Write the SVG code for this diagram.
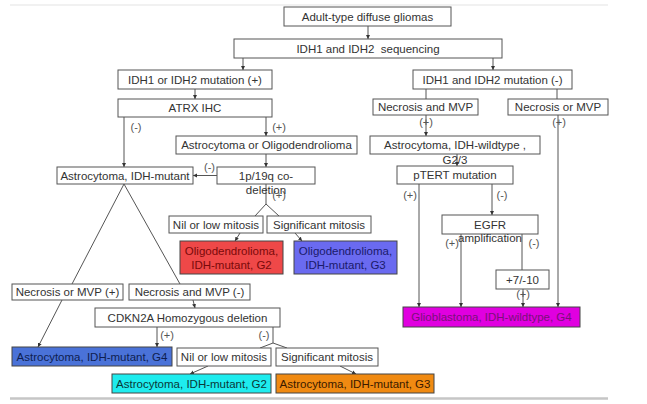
<svg xmlns="http://www.w3.org/2000/svg" width="647" height="404" viewBox="0 0 647 404">
<style>
.b{fill:#fff;stroke:#555;stroke-width:1}
.t{font-family:"Liberation Sans",Arial,sans-serif;font-size:11.5px;fill:#333;text-anchor:middle}
.l{font-family:"Liberation Sans",Arial,sans-serif;font-size:11px;fill:#555;text-anchor:middle}
.c line,.c polyline{stroke:#555;stroke-width:1;fill:none}
.a{marker-end:url(#ah)}
</style>
<defs>
<marker id="ah" markerUnits="userSpaceOnUse" markerWidth="6" markerHeight="6" refX="4" refY="2.5" orient="auto">
<path d="M0,0.5 L4,2.5 L0,4.5 Z" fill="#333"/>
</marker>
</defs>
<rect width="647" height="404" fill="#fff"/>
<line x1="10" y1="5" x2="608" y2="5" stroke="#ececec" stroke-width="1.5"/>
<line x1="10" y1="398.5" x2="608" y2="398.5" stroke="#c6c6c6" stroke-width="2.5"/>

<g class="c" id="connectors">
<line class="a" x1="368" y1="26" x2="368" y2="39"/>
<line class="a" x1="243" y1="58" x2="243" y2="70"/>
<line class="a" x1="493" y1="58" x2="493" y2="70"/>
<line class="a" x1="195" y1="89" x2="195" y2="99"/>
<line class="a" x1="124" y1="117" x2="124" y2="167"/>
<line class="a" x1="266" y1="117" x2="266" y2="136"/>
<line class="a" x1="266" y1="154" x2="266" y2="167"/>
<line class="a" x1="217" y1="175.5" x2="193" y2="175.5"/>
<polyline points="266,184 266,204 255,216"/>
<line x1="266" y1="204" x2="279" y2="216"/>
<line class="a" x1="240" y1="233" x2="235" y2="241"/>
<line class="a" x1="295" y1="233" x2="302" y2="241"/>
<line x1="124" y1="184" x2="72" y2="284"/>
<line x1="124" y1="184" x2="180" y2="284"/>
<line class="a" x1="62" y1="300" x2="38" y2="347"/>
<line class="a" x1="193" y1="300" x2="195" y2="308"/>
<line class="a" x1="157" y1="327" x2="157" y2="347"/>
<polyline points="273,327 273,343 260,348"/>
<line x1="273" y1="343" x2="287" y2="348"/>
<line class="a" x1="208" y1="366" x2="190" y2="374"/>
<line class="a" x1="340" y1="366" x2="356" y2="374"/>
<line x1="426" y1="89" x2="426" y2="99"/>
<line x1="557" y1="89" x2="557" y2="99"/>
<line class="a" x1="426" y1="115" x2="426" y2="136"/>
<line class="a" x1="558" y1="115" x2="558" y2="307"/>
<line class="a" x1="457" y1="154" x2="457" y2="166"/>
<line class="a" x1="419" y1="184" x2="419" y2="307"/>
<line class="a" x1="492" y1="184" x2="492" y2="215"/>
<line class="a" x1="461" y1="234" x2="461" y2="307"/>
<line x1="522" y1="234" x2="522" y2="270"/>
<line class="a" x1="523" y1="289" x2="523" y2="307"/>
</g>

<g id="labels">
<text class="l" x="136" y="131">(-)</text>
<text class="l" x="279" y="131">(+)</text>
<text class="l" x="209.5" y="171">(-)</text>
<text class="l" x="279" y="199">(+)</text>
<text class="l" x="426" y="126">(+)</text>
<text class="l" x="559" y="126">(+)</text>
<text class="l" x="410" y="199">(+)</text>
<text class="l" x="502" y="199">(-)</text>
<text class="l" x="452" y="247">(+)</text>
<text class="l" x="534" y="247">(-)</text>
<text class="l" x="523" y="298">(+)</text>
<text class="l" x="167" y="339">(+)</text>
<text class="l" x="264" y="339">(-)</text>
</g>

<g id="n_adult"><rect class="b" x="284" y="7" width="167" height="19"/><text class="t" x="367.5" y="20.5">Adult-type diffuse gliomas</text></g>
<g id="n_seq"><rect class="b" x="234" y="39" width="268" height="19"/><text class="t" x="368" y="52.5" xml:space="preserve">IDH1 and IDH2  sequencing</text></g>
<g id="n_mutpos"><rect class="b" x="118" y="70" width="154" height="19"/><text class="t" x="195" y="83.5">IDH1 or IDH2 mutation (+)</text></g>
<g id="n_atrx"><rect class="b" x="118" y="99" width="154" height="18"/><text class="t" x="195" y="112">ATRX IHC</text></g>
<g id="n_astoligo"><rect class="b" x="176" y="136" width="181" height="18"/><text class="t" x="266.5" y="149">Astrocytoma or Oligodendrolioma</text></g>
<g id="n_astmut"><rect class="b" x="57" y="167" width="136" height="17"/><text class="t" x="125" y="179.5">Astrocytoma, IDH-mutant</text></g>
<g id="n_codel"><rect class="b" x="217" y="167" width="98" height="17"/><text class="t" x="266" y="180">1p/19q co-</text><text class="t" x="266" y="194">deletion</text></g>
<g id="n_nil1"><rect class="b" x="169" y="216" width="94" height="17"/><text class="t" x="216" y="228.5">Nil or low mitosis</text></g>
<g id="n_sig1"><rect class="b" x="267" y="216" width="104" height="17"/><text class="t" x="319" y="228.5">Significant mitosis</text></g>
<g id="n_oligo2"><rect x="180" y="241" width="103" height="33" fill="#ef4848" stroke="#444"/><text class="t" x="231.5" y="255" style="fill:#7a0a0a">Oligodendrolioma,</text><text class="t" x="231.5" y="269" style="fill:#7a0a0a">IDH-mutant, G2</text></g>
<g id="n_oligo3"><rect x="294" y="241" width="103" height="33" fill="#6a6af0" stroke="#444"/><text class="t" x="345.5" y="255" style="fill:#1a1a6a">Oligodendrolioma,</text><text class="t" x="345.5" y="269" style="fill:#1a1a6a">IDH-mutant, G3</text></g>
<g id="n_necpos"><rect class="b" x="12" y="284" width="111" height="16"/><text class="t" x="67.5" y="296">Necrosis or MVP (+)</text></g>
<g id="n_necneg"><rect class="b" x="129" y="284" width="121" height="16"/><text class="t" x="189.5" y="296">Necrosis and MVP (-)</text></g>
<g id="n_cdkn"><rect class="b" x="95" y="308" width="185" height="19"/><text class="t" x="187.5" y="321.5">CDKN2A Homozygous deletion</text></g>
<g id="n_astg4"><rect x="12" y="347" width="160" height="19" fill="#4a72d8" stroke="#444"/><text class="t" x="92" y="360.5" style="fill:#0e1e50">Astrocytoma, IDH-mutant, G4</text></g>
<g id="n_nil2"><rect class="b" x="177" y="348" width="94" height="18"/><text class="t" x="224" y="361">Nil or low mitosis</text></g>
<g id="n_sig2"><rect class="b" x="276" y="348" width="102" height="18"/><text class="t" x="327" y="361">Significant mitosis</text></g>
<g id="n_astg2"><rect x="112" y="374" width="159" height="19" fill="#1eecee" stroke="#444"/><text class="t" x="191.5" y="387.5" style="fill:#0a3838">Astrocytoma, IDH-mutant, G2</text></g>
<g id="n_astg3"><rect x="276" y="374" width="158" height="19" fill="#f08a12" stroke="#444"/><text class="t" x="355" y="387.5" style="fill:#3a1a00">Astrocytoma, IDH-mutant, G3</text></g>

<g id="n_mutneg"><rect class="b" x="413" y="70" width="159" height="19"/><text class="t" x="492.5" y="83.5">IDH1 and IDH2 mutation (-)</text></g>
<g id="n_necand"><rect class="b" x="373" y="99" width="105" height="16"/><text class="t" x="425.5" y="111">Necrosis and MVP</text></g>
<g id="n_necor"><rect class="b" x="508" y="99" width="100" height="16"/><text class="t" x="558" y="111">Necrosis or MVP</text></g>
<g id="n_astwt"><rect class="b" x="370" y="136" width="170" height="18"/><text class="t" x="455" y="149">Astrocytoma, IDH-wildtype ,</text><text class="t" x="455" y="164">G2/3</text></g>
<g id="n_ptert"><rect class="b" x="397" y="166" width="116" height="18"/><text class="t" x="455" y="179">pTERT mutation</text></g>
<g id="n_egfr"><rect class="b" x="442" y="215" width="96" height="19"/><text class="t" x="490" y="229">EGFR</text><text class="t" x="490" y="242">amplification</text></g>
<g id="n_710"><rect class="b" x="496" y="270" width="53" height="19"/><text class="t" x="522.5" y="283.5">+7/-10</text></g>
<g id="n_gbm"><rect x="403" y="307" width="177" height="20" fill="#e000e0" stroke="#444"/><text class="t" x="491.5" y="321" style="fill:#7a107a">Glioblastoma, IDH-wildtype, G4</text></g>
</svg>
